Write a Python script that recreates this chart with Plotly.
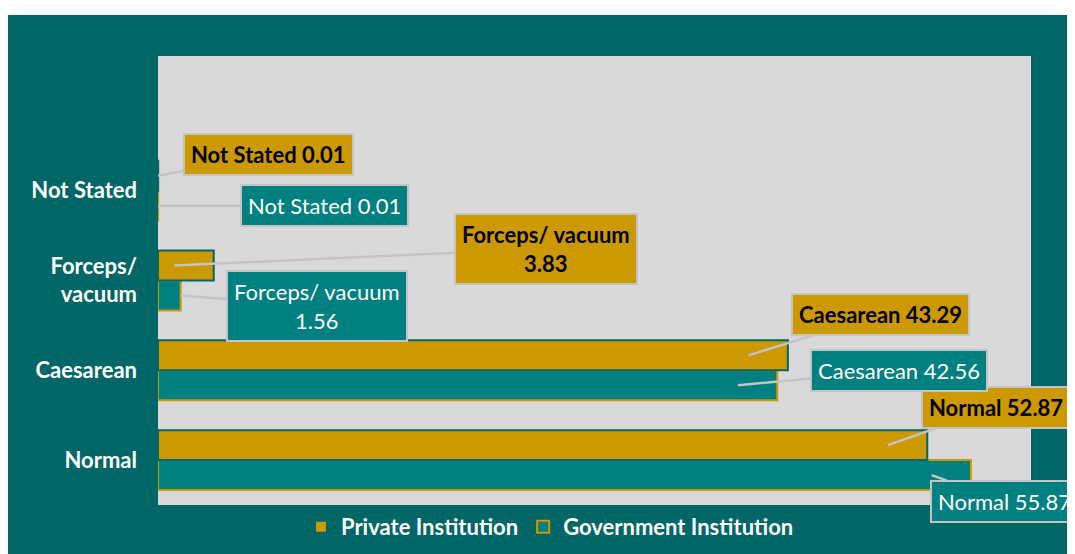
import plotly.graph_objects as go

categories = ["Normal", "Caesarean", "Forceps/ vacuum", "Not Stated"]
tick_labels = ["Normal", "Caesarean", "Forceps/<br>vacuum", "Not Stated"]
private_values = [52.87, 43.29, 3.83, 0.01]
government_values = [55.87, 42.56, 1.56, 0.01]

GOLD = "#CC9900"
TEAL = "#008080"
DARK = "#006666"
GRAY = "#D9D9D9"
BORDER = "#C4C4C4"
FONT = "Lato"

fig = go.Figure()
fig.add_trace(go.Bar(
    y=categories, x=government_values, orientation="h",
    name="Government Institution",
    marker=dict(color=TEAL, line=dict(color=GOLD, width=2)),
))
fig.add_trace(go.Bar(
    y=categories, x=private_values, orientation="h",
    name="Private Institution",
    marker=dict(color=GOLD, line=dict(color=DARK, width=2)),
))

# label offsets (pixels from arrow tip to box centre)
priv_off = [(108, -38), (132, -41), (372, -17), (110, -21)]
gov_off = [(73, 26), (161, -15), (136, 11), (166, 0)]
SHIFT = 2.7

def tip(v):
    return v - SHIFT if v > SHIFT else v

for i, cat in enumerate(categories):
    one_line = cat != "Forceps/ vacuum"
    pv = private_values[i]
    gv = government_values[i]
    sep = " " if one_line else "<br>"
    ptxt = f"{cat}{sep}{pv:.2f}"
    gtxt = f"{cat}{sep}{gv:.2f}"
    fig.add_annotation(
        x=tip(pv), y=i + 1/6, xref="x", yref="y",
        text=f"<b>{ptxt}</b>", showarrow=True, arrowhead=0,
        arrowcolor=BORDER, arrowwidth=2.5,
        ax=priv_off[i][0], ay=priv_off[i][1],
        bgcolor=GOLD, bordercolor=BORDER, borderwidth=2, borderpad=6,
        font=dict(family=FONT, size=22, color="black"),
    )
    fig.add_annotation(
        x=tip(gv), y=i - 1/6, xref="x", yref="y",
        text=gtxt, showarrow=True, arrowhead=0,
        arrowcolor=BORDER, arrowwidth=2.5,
        ax=gov_off[i][0], ay=gov_off[i][1],
        bgcolor=TEAL, bordercolor=BORDER, borderwidth=2, borderpad=6,
        font=dict(family=FONT, size=22, color="white"),
    )

fig.update_layout(
    width=1067, height=546,
    margin=dict(l=150, r=44, t=48, b=49, pad=0, autoexpand=False),
    paper_bgcolor=DARK, plot_bgcolor=GRAY,
    barmode="group", bargap=1/3, bargroupgap=0,
    showlegend=True,
    legend=dict(orientation="h", x=0.449, xanchor="center",
                yref="container", y=27 / 546, yanchor="middle",
                traceorder="reversed",
                font=dict(family=FONT, size=22, color="white", weight="bold"),
                bgcolor="rgba(0,0,0,0)", itemwidth=30),
    font=dict(family=FONT),
)
fig.update_xaxes(range=[0, 60], showticklabels=False, showgrid=False, zeroline=False, showline=False)
fig.update_yaxes(
    categoryorder="array", categoryarray=categories,
    tickmode="array", tickvals=categories, ticktext=tick_labels,
    range=[-0.5, 4.5], showgrid=False, zeroline=False, showline=False,
    ticks="", ticklabelstandoff=20,
    tickfont=dict(family=FONT, size=22, color="white", weight="bold"),
)
# white page strip at the top
fig.add_shape(type="rect", xref="paper", yref="paper",
              x0=-0.3, x1=1.2, y0=(497 - 7) / 449, y1=1.3,
              fillcolor="white", line_width=0, layer="above")

fig.write_html("out.html")
